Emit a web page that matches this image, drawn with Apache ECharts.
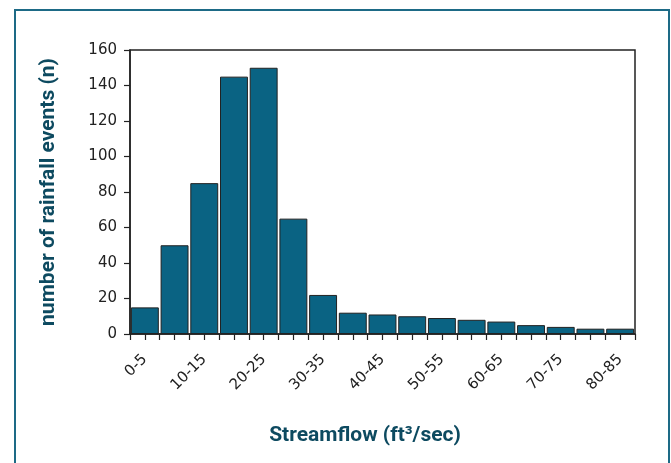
<!DOCTYPE html>
<html>
<head>
<meta charset="utf-8">
<script src="https://cdn.jsdelivr.net/npm/echarts@6/dist/echarts.min.js"></script>
<style>
html,body{margin:0;padding:0;background:#fff;}
#chart{width:671px;height:463px;}
</style>
</head>
<body>
<div id="chart"></div>
<script>
const categories = ['0-5','5-10','10-15','15-20','20-25','25-30','30-35','35-40','40-45','45-50','50-55','55-60','60-65','65-70','70-75','75-80','80-85'];
const events = [15, 50, 85, 145, 150, 65, 22, 12, 11, 10, 9, 8, 7, 5, 4, 3, 3];
const yTicks = {min: 0, max: 160, interval: 20};
const xTitle = 'Streamflow (ft³/sec)';
const yTitle = 'number of rainfall events (n)';

const chart = echarts.init(document.getElementById('chart'), null, {renderer: 'canvas'});
const axisColor = '#222';
const titleColor = '#0d4a60';
const labelFont = '"DejaVu Sans", Verdana, sans-serif';
chart.setOption({
  animation: false,
  backgroundColor: '#fff',
  grid: {left: 130, right: 36, top: 50, bottom: 129, show: true, borderColor: axisColor, borderWidth: 1.5, backgroundColor: 'transparent'},
  graphic: [{
    type: 'rect', silent: true,
    shape: {x: 15, y: 10, width: 654, height: 480},
    style: {fill: 'none', stroke: '#1d6a86', lineWidth: 2}
  }, {
    type: 'text', silent: true,
    x: 365, y: 436,
    style: {text: xTitle, fill: titleColor, font: 'bold 21px Roboto', textAlign: 'center', textVerticalAlign: 'middle'}
  }],
  xAxis: [{
    type: 'category',
    data: categories,
    boundaryGap: true,
    axisLine: {lineStyle: {color: axisColor, width: 1.5}},
    axisTick: {show: false},
    axisLabel: {interval: 1, rotate: 45, margin: 23, color: '#222', fontFamily: labelFont, fontSize: 15}
  }, {
    type: 'value',
    min: 0, max: 85, interval: 2.5,
    position: 'bottom',
    axisLine: {show: false},
    axisLabel: {show: false},
    splitLine: {show: false},
    axisTick: {show: true, length: 6, lineStyle: {color: axisColor, width: 1.2}}
  }],
  yAxis: {
    type: 'value',
    min: yTicks.min, max: yTicks.max, interval: yTicks.interval,
    axisLine: {show: true, lineStyle: {color: axisColor, width: 1.5}},
    axisTick: {show: true, length: 6, lineStyle: {color: axisColor, width: 1.2}},
    splitLine: {show: false},
    axisLabel: {margin: 13, color: '#222', fontFamily: labelFont, fontSize: 15},
    name: yTitle,
    nameLocation: 'middle',
    nameRotate: 90,
    nameGap: 71,
    nameTextStyle: {color: titleColor, fontFamily: 'Roboto', fontWeight: 'bold', fontSize: 21}
  },
  series: [{
    type: 'bar',
    xAxisIndex: 0,
    data: events,
    barCategoryGap: '6%',
    itemStyle: {color: '#0a6383', borderColor: '#222', borderWidth: 1}
  }]
});
</script>
</body>
</html>
